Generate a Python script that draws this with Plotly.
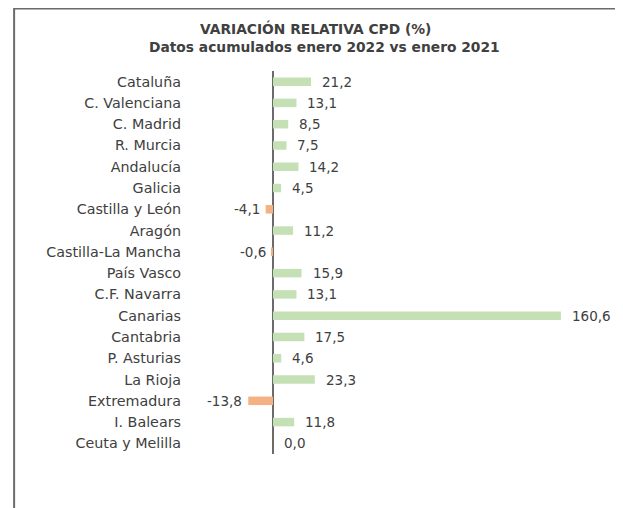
import plotly.graph_objects as go

categories = ["Cataluña", "C. Valenciana", "C. Madrid", "R. Murcia", "Andalucía", "Galicia",
              "Castilla y León", "Aragón", "Castilla-La Mancha", "País Vasco", "C.F. Navarra",
              "Canarias", "Cantabria", "P. Asturias", "La Rioja", "Extremadura", "I. Balears",
              "Ceuta y Melilla"]
values = [21.2, 13.1, 8.5, 7.5, 14.2, 4.5, -4.1, 11.2, -0.6, 15.9, 13.1, 160.6, 17.5, 4.6,
          23.3, -13.8, 11.8, 0.0]
title_line1 = "VARIACIÓN RELATIVA CPD (%)"
title_line2 = "Datos acumulados enero 2022 vs enero 2021"

GREEN = "#c5e0b4"
ORANGE = "#f4b183"
TXT = "#404040"
FONT = "DejaVu Sans"

colors = [GREEN if v >= 0 else ORANGE for v in values]

fig = go.Figure()
fig.add_trace(go.Bar(
    x=values, y=categories, orientation="h", marker=dict(color=colors, line=dict(width=0)),
    width=0.4, hoverinfo="x+y",
))

annotations = []
for c, v in zip(categories, values):
    lbl = f"{v:.1f}".replace(".", ",")
    if v >= 0:
        annotations.append(dict(x=v, y=c, xref="x", yref="y", text=lbl, showarrow=False,
                                xanchor="left", xshift=9, font=dict(family=FONT, size=13.5, color=TXT)))
    else:
        annotations.append(dict(x=v, y=c, xref="x", yref="y", text=lbl, showarrow=False,
                                xanchor="right", xshift=-4, font=dict(family=FONT, size=13.5, color=TXT)))

annotations.append(dict(x=0.307, y=1.110, xref="paper", yref="paper", text="<b>" + title_line1 + "</b>",
                        showarrow=False, xanchor="center", yanchor="middle",
                        font=dict(family=FONT, size=13.8, color=TXT)))
annotations.append(dict(x=0.329, y=1.063, xref="paper", yref="paper", text="<b>" + title_line2 + "</b>",
                        showarrow=False, xanchor="center", yanchor="middle",
                        font=dict(family=FONT, size=13.8, color=TXT)))

fig.update_layout(
    width=615, height=500,
    margin=dict(l=182, r=23, t=63, b=54, pad=0),
    paper_bgcolor="white", plot_bgcolor="white",
    showlegend=False,
    annotations=annotations,
    xaxis=dict(range=[-46.3, 182.4], showgrid=False, showticklabels=False, ticks="",
               zeroline=True, zerolinecolor="#6b6b6b", zerolinewidth=2, fixedrange=True),
    yaxis=dict(categoryorder="array", categoryarray=categories, autorange="reversed",
               showgrid=False, ticks="", ticklabelstandoff=8,
               tickfont=dict(family=FONT, size=14.3, color=TXT), showline=False),
    shapes=[
        dict(type="line", xref="paper", yref="paper", x0=-0.429, x1=-0.429, y0=1.2, y1=-0.15,
             line=dict(color="#6b6b6b", width=2)),
        dict(type="line", xref="paper", yref="paper", x0=-0.429, x1=1.06, y0=1.163, y1=1.163,
             line=dict(color="#6b6b6b", width=2)),
    ],
)

fig.write_html("out.html")
